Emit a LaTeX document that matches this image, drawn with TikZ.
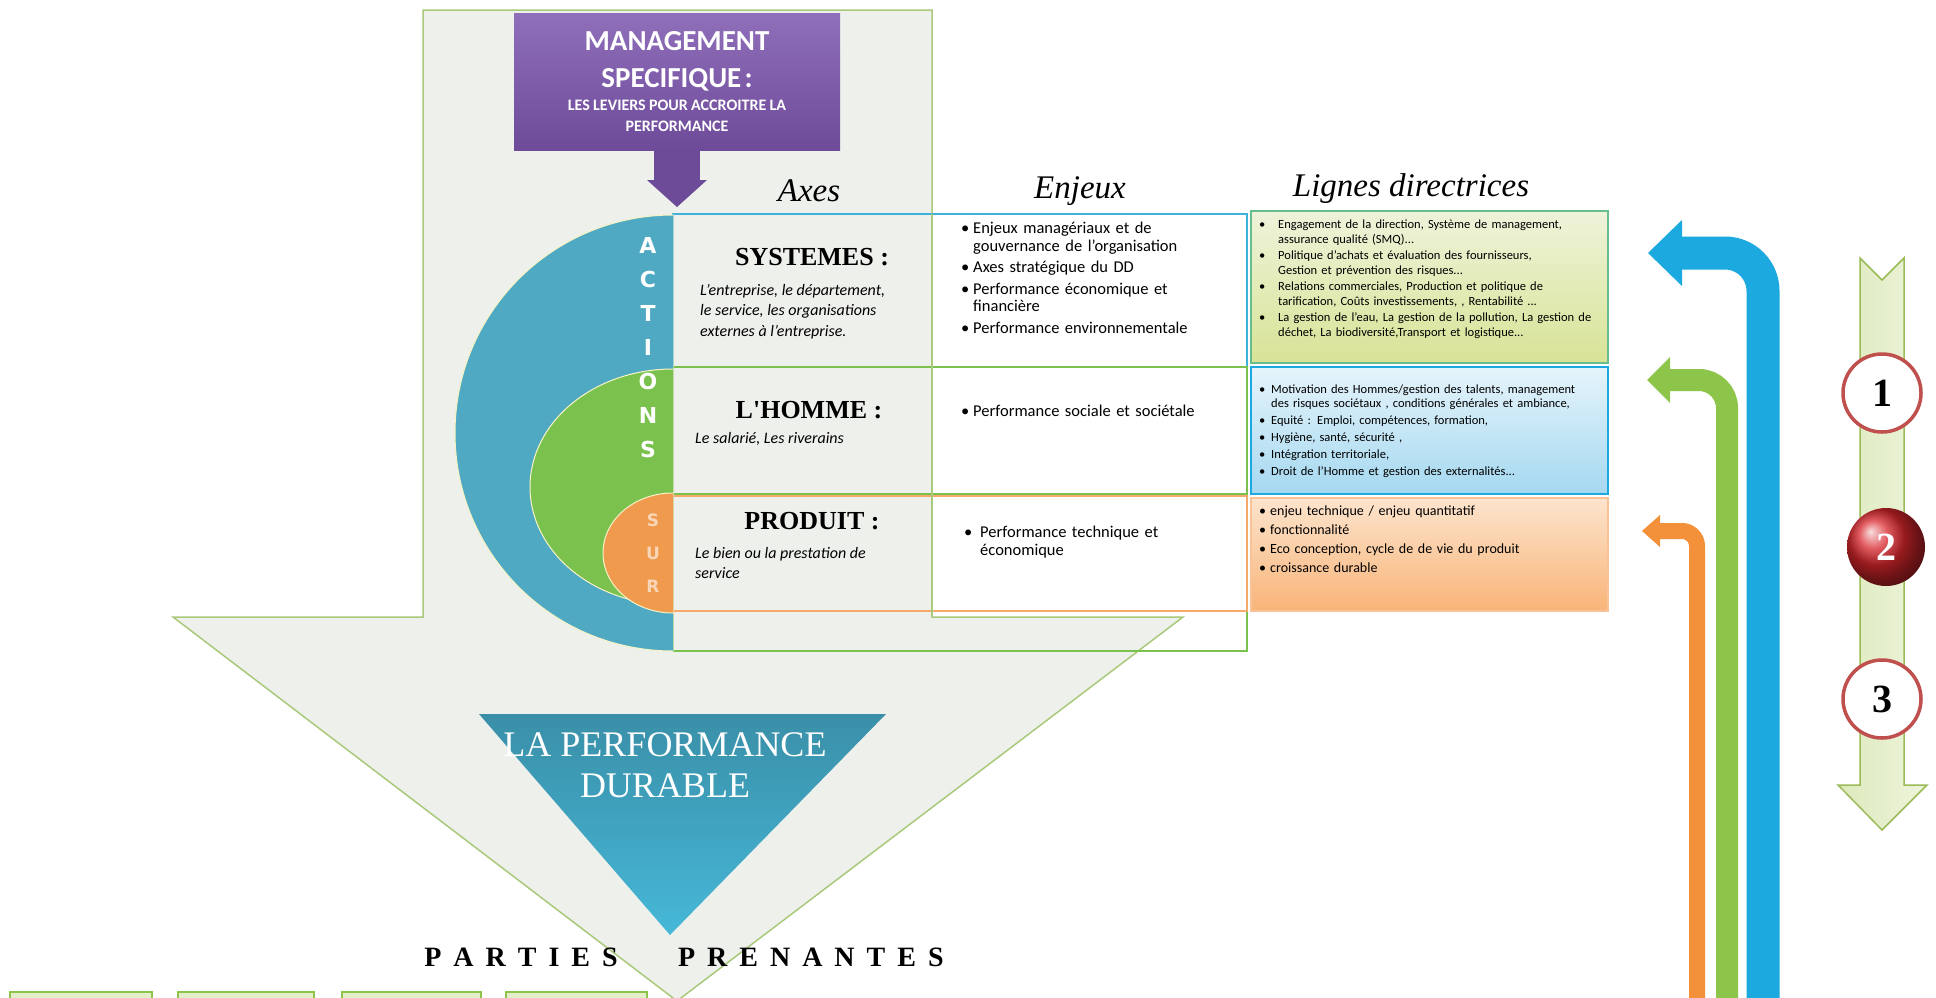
\documentclass[tikz,border=0pt]{standalone}
\usepackage{fontspec}
\setmainfont{Carlito}
\newfontfamily\serifface{Liberation Serif}
\newfontfamily\capsface{DejaVu Sans}
\usetikzlibrary{arrows.meta, positioning, calc}
\definecolor{ddShell}{HTML}{EEF0EC}
\definecolor{ddEdge}{HTML}{A9C97B}
\definecolor{ddFoot}{HTML}{E4EEC8}
\definecolor{ddPurpleTop}{HTML}{8F6EBA}
\definecolor{ddPurpleBot}{HTML}{6E4B99}
\definecolor{ddBlue}{HTML}{4FA9C2}
\definecolor{ddGreen}{HTML}{7BC14D}
\definecolor{ddOrange}{HTML}{EF9A4C}
\definecolor{ddPale}{HTML}{F6F3C8}
\definecolor{ddCyan}{HTML}{3FB2DA}
\definecolor{ddPeach}{HTML}{F6AA6A}
\definecolor{ddLimeTop}{HTML}{EEF3DA}
\definecolor{ddLimeBot}{HTML}{D8E396}
\definecolor{ddIceTop}{HTML}{E6F4FB}
\definecolor{ddIceBot}{HTML}{A5D8F0}
\definecolor{ddApriTop}{HTML}{FDE4CD}
\definecolor{ddApriBot}{HTML}{F8B478}
\definecolor{ddTeal}{HTML}{3A8FA8}
\definecolor{ddTealLight}{HTML}{46B8D8}
\definecolor{ddSky}{HTML}{1BA9E0}
\definecolor{ddLeaf}{HTML}{8CC54A}
\definecolor{ddTangerine}{HTML}{F3913A}
\definecolor{ddStripL}{HTML}{DDE9BC}
\definecolor{ddStripR}{HTML}{EEF4DC}
\definecolor{ddStripEdge}{HTML}{9BBB59}
\definecolor{ddRing}{HTML}{C0504D}
\definecolor{ddBall}{HTML}{D8262C}
\newcommand{\fsz}[2]{\fontsize{#1}{#2}\selectfont}
\newcommand{\bul}[2][12pt]{\par\noindent\hangindent=#1\hangafter=1\makebox[#1][l]{\textbullet}#2\par}
\makeatletter
\newcommand{\spreadword}[2]{\@tfor\sw@ch:=#2\do{\sw@ch\hspace{#1}}\unskip}
\makeatother
\tikzset{
  shell/.style={fill=ddShell, draw=ddEdge, line width=1.5pt},
  footbox/.style={fill=ddFoot, draw=ddLeaf, line width=1.5pt},
  mgmt/.style={top color=ddPurpleTop, bottom color=ddPurpleBot, minimum width=326pt,
    minimum height=137pt, text width=316pt, align=center, text=white, inner sep=0pt},
  down/.style={-{Triangle[width=60pt, length=27pt, line width=0pt]}, line width=46pt, draw=ddPurpleBot},
  colhead/.style={font=\serifface\itshape\fsz{33}{33}, inner sep=0pt},
  halfdisc/.style={fill=#1, draw=ddPale, line width=1pt},
  vletter/.style={font=\capsface\bfseries\fsz{22}{22}, text=white, inner sep=0pt},
  rowhead/.style={font=\serifface\bfseries\fsz{26}{26}, inner sep=0pt},
  rowsub/.style={font=\itshape\fsz{16}{20.5}, align=left, anchor=north west, inner sep=0pt},
  cell/.style={draw=#1, line width=1.5pt},
  enjeu/.style={font=\fsz{16.5}{17.5}, text width=280pt, align=left, anchor=north west,
    inner sep=0pt, execute at begin node={\setlength{\parskip}{4pt}}},
  ligne/.style={font=\fsz{12.5}{14.5}, text width=345pt, align=left, anchor=north west,
    inner sep=0pt, execute at begin node={\setlength{\parskip}{#1}}},
  ligne/.default=2pt,
  turn/.style n args={2}{line width=#1, rounded corners=#2},
  strip/.style={left color=ddStripL, right color=ddStripR, draw=ddStripEdge, line width=1.5pt},
  numring/.style={circle, draw=ddRing, line width=3.5pt, fill=white, minimum size=78pt,
    inner sep=0pt, font=\serifface\bfseries\fsz{40}{40}},
  numball/.style={circle, shading=ball, ball color=ddBall, minimum size=78pt, inner sep=0pt,
    text=white, font=\serifface\bfseries\fsz{40}{40}},
  perf/.style={font=\serifface\fsz{36}{41}, text=white, align=center, inner sep=0pt},
  stake/.style={font=\serifface\bfseries\fsz{28}{28}, inner sep=0pt},
}

\begin{document}
\begin{tikzpicture}[x=1pt, y=-1pt]
  \useasboundingbox (0,0) rectangle (1936,997);
  \clip (0,0) rectangle (1936,997);
  \fill[white] (0,0) rectangle (1936,997);

  % big grey arrow and the boxes under it
  \draw[shell] (423,10) -- (932,10) -- (932,617) -- (1183,617) -- (677,1001) -- (173,617) -- (423,617) -- cycle;
  \foreach \xa/\xb in {10/152, 178/314, 342/481, 506/647}
    \draw[footbox] (\xa,992) rectangle (\xb,1012);

  % management box
  \node[mgmt] (mgmt) at (677,82) {{\bfseries\fsz{29}{37}MANAGEMENT\\SPECIFIQUE :\par}\vspace{2pt}%
    {\bfseries\fsz{16}{21}LES LEVIERS POUR ACCROITRE LA\\PERFORMANCE\par}};
  \coordinate (axestop) at (677,207);
  \draw[down] (mgmt.south) -- (axestop);

  \node[colhead] (hAxes)   at (809,191)  {Axes};
  \node[colhead] (hEnjeux) at (1080,191) {Enjeux};
  \node[colhead] (hLignes) at (1411,189) {Lignes directrices};

  % table
  \fill[white] (933,214) rectangle (1247,611);
  \draw[cell=ddGreen] (673,367) rectangle (1247,651);
  \draw[cell=ddCyan] (673,214) rectangle (1247,367);
  \draw[cell=ddGreen] (673,367) rectangle (1247,494);
  \draw[cell=ddPeach, line width=2.5pt] (673,496) rectangle (1247,611);
  \draw[ddEdge, line width=1.5pt] (932,214) -- (932,617);

  \fill[halfdisc=ddBlue] (673,215) arc[start angle=270, end angle=90, x radius=218, y radius=218] -- cycle;
  \fill[halfdisc=ddGreen] (673,369) arc[start angle=270, end angle=90, x radius=143, y radius=118] -- cycle;
  \fill[halfdisc=ddOrange] (673,493) arc[start angle=270, end angle=90, x radius=70, y radius=60] -- cycle;
  \draw[halfdisc=ddBlue] (673,215) arc[start angle=270, end angle=90, x radius=218, y radius=218];
  \draw[halfdisc=ddGreen] (673,369) arc[start angle=270, end angle=90, x radius=143, y radius=118];
  \draw[halfdisc=ddOrange] (673,493) arc[start angle=270, end angle=90, x radius=70, y radius=60];
  \foreach \ch [count=\i] in {A,C,T,I,O,N,S}
    \node[vletter] (act\i) at (648,211+34*\i) {\ch};
  \foreach \ch [count=\i] in {S,U,R}
    \node[vletter, font=\capsface\bfseries\fsz{17}{17}, text opacity=0.6] (sur\i) at (653,487+33*\i) {\ch};

  \shade[top color=ddLimeTop, bottom color=ddLimeBot, draw=ddCyan!45!ddLeaf, line width=1.5pt] (1251,211) rectangle (1608,363);
  \shade[top color=ddIceTop, bottom color=ddIceBot, draw=ddSky, line width=1.5pt] (1251,367) rectangle (1608,494);
  \shade[top color=ddApriTop, bottom color=ddApriBot, draw=ddPeach!70, line width=1.5pt] (1251,498) rectangle (1608,611);

  \node[rowhead] (sys) at (812,257) {SYSTEMES :};
  \node[rowsub] (sysd) at (700,284) {L'entreprise, le département,\\le service, les organisations\\externes à l'entreprise.};
  \node[rowhead] (hom) at (809,410) {L'HOMME :};
  \node[rowsub] (homd) at (695,432) {Le salarié, Les riverains};
  \node[rowhead] (prod) at (812,521) {PRODUIT :};
  \node[rowsub] (prodd) at (695,547) {Le bien ou la prestation de\\service};

  \node[enjeu] (enj1) at (961,212) {\bul{Enjeux managériaux  et de\newline gouvernance  de l'organisation}%
    \bul{Axes stratégique du DD}\bul{Performance économique et\newline financière}\bul{Performance environnementale}};
  \node[enjeu] (enj2) at (961,395) {\bul{Performance sociale et sociétale}};
  \node[enjeu] (enj3) at (964,516) {\bul[16pt]{Performance technique et\newline économique}};

  \node[ligne] (lig1) at (1259,212) {\bul[19pt]{Engagement de la direction, Système de management,\newline assurance qualité (SMQ)...}%
    \bul[19pt]{Politique  d'achats et évaluation des fournisseurs,\newline Gestion et prévention des risques...}%
    \bul[19pt]{Relations commerciales, Production et politique de\newline tarification, Coûts investissements, , Rentabilité ...}%
    \bul[19pt]{La gestion de l'eau, La gestion de la pollution, La gestion de\newline déchet,  La biodiversité,Transport et logistique...}};
  \node[ligne=2.5pt] (lig2) at (1259,376) {\bul[12pt]{Motivation des Hommes/gestion des talents, management\newline des risques sociétaux , conditions générales et ambiance,}%
    \bul[12pt]{Equité : Emploi, compétences, formation,}\bul[12pt]{Hygiène, santé, sécurité ,}%
    \bul[12pt]{Intégration territoriale,}\bul[12pt]{Droit de l'Homme et  gestion des externalités...}};
  \node[ligne=0pt, font=\fsz{14}{18.7}] (lig3) at (1259,497) {\bul[11pt]{enjeu technique / enjeu quantitatif}%
    \bul[11pt]{fonctionnalité}\bul[11pt]{Eco conception,  cycle de de vie du produit}\bul[11pt]{croissance durable}};

  % feedback arrows
  \draw[turn={33pt}{38pt}, ddSky, -{Triangle[width=66pt, length=34pt, line width=0pt]}] (1763,1005) -- (1763,253) -- (1648,253);
  \draw[turn={22pt}{28pt}, ddLeaf, -{Triangle[width=46pt, length=23pt, line width=0pt]}] (1727,1005) -- (1727,380) -- (1647,380);
  \draw[turn={16pt}{15pt}, ddTangerine, -{Triangle[width=32pt, length=18pt, line width=0pt]}] (1697,1005) -- (1697,531) -- (1642,531);

  % numbered strip
  \shade[strip] (1860,258) -- (1882,280) -- (1904,258) -- (1904,785) -- (1927,785) -- (1882,830) -- (1838,785) -- (1860,785) -- cycle;
  \node[numring] (one) at (1882,393) {1};
  \node[numball] (two) at (1886,547) {2};
  \node[numring] (three) at (1882,699) {3};

  % result
  \shade[top color=ddTeal, bottom color=ddTealLight] (479,714) -- (886,714) -- (670,935) -- cycle;
  \node[perf] (perf) at (665,765) {LA PERFORMANCE\\DURABLE};
  \node[stake] (parties) at (521,957) {\spreadword{12pt}{PARTIES}};
  \node[stake, right=60pt of parties] (prenantes) {\spreadword{12pt}{PRENANTES}};
\end{tikzpicture}
\end{document}
